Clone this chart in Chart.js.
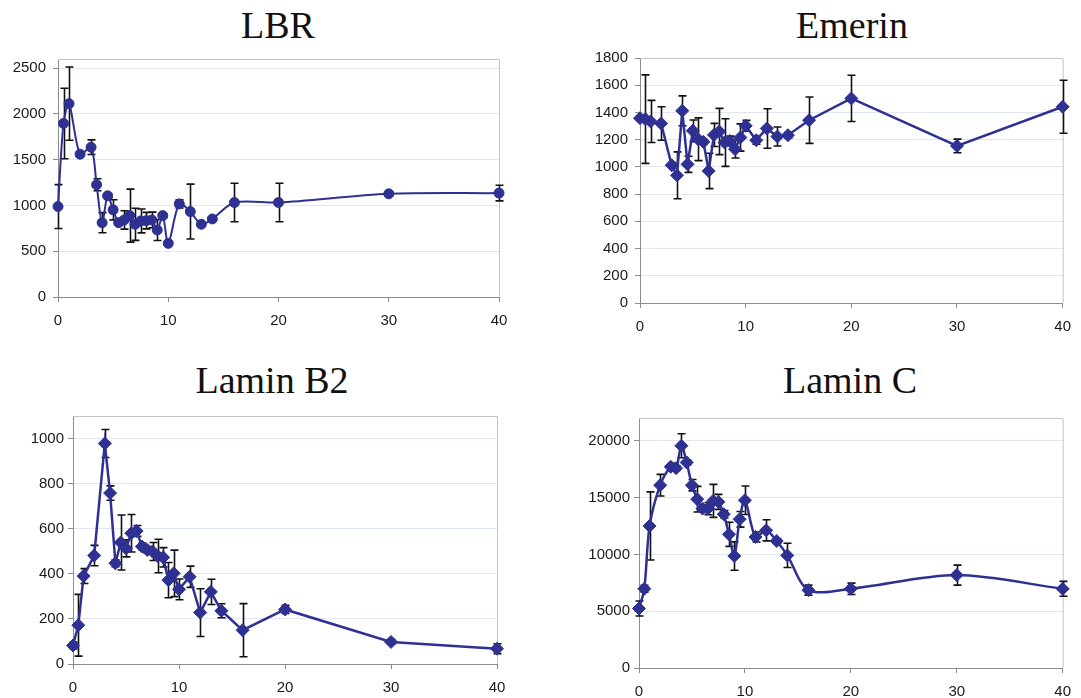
<!DOCTYPE html>
<html>
<head>
<meta charset="utf-8">
<script src="https://cdn.jsdelivr.net/npm/chart.js@4.4.1/dist/chart.umd.min.js"></script>
<style>
  html, body { margin:0; padding:0; background:#ffffff; }
  body { width:1081px; height:698px; position:relative; overflow:hidden; }
  canvas { position:absolute; }
  .ttl { position:absolute; font-family:"Liberation Serif","Times New Roman",serif; font-size:38px; line-height:38px; color:#111; white-space:nowrap; transform:translateX(-50%); }
</style>
</head>
<body>
<div class="ttl" id="t1" style="left:278px; top:6px;">LBR</div>
<div class="ttl" id="t2" style="left:852px; top:6px;">Emerin</div>
<div class="ttl" id="t3" style="left:272px; top:361px;">Lamin B2</div>
<div class="ttl" id="t4" style="left:850px; top:361px;">Lamin C</div>

<canvas id="c1" width="540" height="300" style="left:0px; top:40px;"></canvas>
<canvas id="c2" width="521" height="300" style="left:560px; top:40px;"></canvas>
<canvas id="c3" width="540" height="298" style="left:0px; top:400px;"></canvas>
<canvas id="c4" width="521" height="298" style="left:560px; top:400px;"></canvas>

<script>
// ---- Data ----
const times = [0, 0.5, 1, 2, 3, 3.5, 4, 4.5, 5, 5.5, 6, 6.5, 7, 7.5, 8, 8.5, 9, 9.5, 10, 11, 12, 13, 14, 16, 20, 30, 40];
const xTicks = [0, 10, 20, 30, 40];

const lbrValues = [988, 1896, 2112, 1560, 1636, 1226, 812, 1105, 952, 812, 842, 889, 794, 831, 834, 842, 732, 889, 586, 1017, 933, 794, 853, 1032, 1032, 1127, 1135];
const lbrErrors = [240, 385, 400, 25, 80, 65, 110, 20, 110, 20, 100, 290, 175, 130, 90, 85, 115, 20, 15, 45, 300, 20, 20, 210, 210, 20, 85];
const lbrTicks = [0, 500, 1000, 1500, 2000, 2500];

const emerinValues = [1358, 1351, 1334, 1319, 1012, 938, 1412, 1019, 1265, 1203, 1184, 970, 1235, 1260, 1179, 1191, 1130, 1216, 1302, 1196, 1282, 1223, 1233, 1343, 1503, 1154, 1442];
const emerinErrors = [20, 325, 155, 123, 20, 172, 110, 59, 80, 157, 20, 130, 85, 170, 175, 35, 65, 100, 40, 30, 145, 70, 20, 170, 170, 50, 195];
const emerinTicks = [0, 200, 400, 600, 800, 1000, 1200, 1400, 1600, 1800];

const laminB2Values = [82, 172, 390, 481, 978, 758, 447, 539, 513, 580, 590, 521, 506, 499, 479, 473, 372, 402, 331, 387, 228, 320, 236, 150, 242, 98, 68];
const laminB2Errors = [15, 137, 33, 45, 62, 32, 15, 122, 38, 83, 24, 15, 15, 40, 74, 43, 78, 103, 46, 47, 106, 56, 31, 118, 18, 10, 22];
const laminB2Ticks = [0, 200, 400, 600, 800, 1000];

const laminCValues = [5235, 6970, 12500, 16087, 17705, 17587, 19558, 18087, 16087, 14852, 14029, 14029, 14705, 14617, 13529, 11764, 9852, 13088, 14764, 11529, 12117, 11176, 9911, 6852, 6970, 8176, 6970];
const laminCErrors = [660, 300, 3000, 950, 310, 200, 1060, 200, 500, 1130, 200, 540, 1450, 660, 330, 1060, 1250, 690, 1250, 440, 930, 200, 1070, 440, 500, 880, 650];
const laminCTicks = [0, 5000, 10000, 15000, 20000];

// ---- Styling ----
const LINE = '#2e3192';
const GRID = '#e2e6f2';
const AXIS = '#8c8c8c';
const FRAME = '#c4c4c4';
const TICK_FONT = { family: '"Liberation Sans", Arial, sans-serif', size: 15 };

const errorBarPlugin = {
  id: 'errorBars',
  beforeDatasetsDraw(chart) {
    const ctx = chart.ctx;
    const a = chart.chartArea;
    // plot frame (top & right)
    ctx.save();
    ctx.strokeStyle = FRAME;
    ctx.lineWidth = 1;
    ctx.beginPath();
    ctx.moveTo(a.left, a.top + 0.5);
    ctx.lineTo(a.right + 0.5, a.top + 0.5);
    ctx.lineTo(a.right + 0.5, a.bottom);
    ctx.stroke();
    ctx.restore();

    const xs = chart.scales.x, ys = chart.scales.y;
    chart.data.datasets.forEach(ds => {
      const errs = ds.errors || [];
      ctx.save();
      ctx.strokeStyle = '#111111';
      ctx.lineWidth = 1.6;
      ds.data.forEach((p, i) => {
        const e = errs[i];
        if (!e) return;
        const px = Math.round(xs.getPixelForValue(p.x)) + 0.5;
        const yTop = ys.getPixelForValue(p.y + e);
        const yBot = ys.getPixelForValue(p.y - e);
        const cap = 4;
        ctx.beginPath();
        ctx.moveTo(px, yTop); ctx.lineTo(px, yBot);
        ctx.moveTo(px - cap, yTop); ctx.lineTo(px + cap, yTop);
        ctx.moveTo(px - cap, yBot); ctx.lineTo(px + cap, yBot);
        ctx.stroke();
      });
      ctx.restore();
    });
  }
};

function makeChart(id, values, errors, yTicks, cfg) {
  const data = times.map((t, i) => ({ x: t, y: values[i] }));
  return new Chart(document.getElementById(id), {
    type: 'line',
    data: {
      datasets: [{
        data: data,
        errors: errors,
        borderColor: LINE,
        backgroundColor: LINE,
        borderWidth: cfg.lineWidth,
        pointStyle: cfg.pointStyle,
        pointRadius: cfg.pointRadius,
        pointBackgroundColor: LINE,
        pointBorderColor: LINE,
        pointBorderWidth: 1,
        tension: cfg.tension,
        clip: false,
        fill: false
      }]
    },
    options: {
      responsive: false,
      animation: false,
      devicePixelRatio: 1,
      layout: { padding: cfg.padding },
      plugins: { legend: { display: false }, tooltip: { enabled: false }, title: { display: false } },
      scales: {
        x: {
          type: 'linear',
          min: 0, max: 40,
          bounds: 'data',
          afterBuildTicks: s => { s.ticks = xTicks.map(v => ({ value: v })); },
          afterFit: s => { s.height = cfg.xH; },
          grid: { drawOnChartArea: false, drawTicks: true, tickLength: 5, tickColor: AXIS },
          border: { display: true, color: AXIS, width: 1 },
          ticks: { font: TICK_FONT, color: '#1a1a1a', padding: 10, maxRotation: 0, autoSkip: false, callback: v => String(v) }
        },
        y: {
          type: 'linear',
          min: 0, max: cfg.yMax,
          bounds: 'data',
          afterBuildTicks: s => { s.ticks = yTicks.map(v => ({ value: v })); },
          afterFit: s => { s.width = cfg.yW; },
          grid: { color: GRID, lineWidth: 1, drawTicks: true, tickLength: 5, tickColor: AXIS },
          border: { display: true, color: AXIS, width: 1 },
          ticks: { font: TICK_FONT, color: '#1a1a1a', padding: cfg.yPad, autoSkip: false, callback: v => String(v) }
        }
      }
    },
    plugins: [errorBarPlugin]
  });
}

makeChart('c1', lbrValues, lbrErrors, lbrTicks, {
  yMax: 2600, yW: 58, xH: 35, yPad: 7,
  padding: { left: 0, right: 41, top: 19, bottom: 8 },
  pointStyle: 'circle', pointRadius: 5, lineWidth: 2, tension: 0.3
});
makeChart('c2', emerinValues, emerinErrors, emerinTicks, {
  yMax: 1800, yW: 80, xH: 35, yPad: 7,
  padding: { left: 0, right: 9, top: 18, bottom: 2 },
  pointStyle: 'rectRot', pointRadius: 6.5, lineWidth: 2.5, tension: 0
});
makeChart('c3', laminB2Values, laminB2Errors, laminB2Ticks, {
  yMax: 1100, yW: 73, xH: 34, yPad: 4,
  padding: { left: 0, right: 43, top: 16, bottom: 0 },
  pointStyle: 'rectRot', pointRadius: 6.5, lineWidth: 2.5, tension: 0
});
makeChart('c4', laminCValues, laminCErrors, laminCTicks, {
  yMax: 22000, yW: 79, xH: 30, yPad: 4,
  padding: { left: 0, right: 9, top: 18, bottom: 0 },
  pointStyle: 'rectRot', pointRadius: 6.5, lineWidth: 2.5, tension: 0.3
});
</script>
</body>
</html>
